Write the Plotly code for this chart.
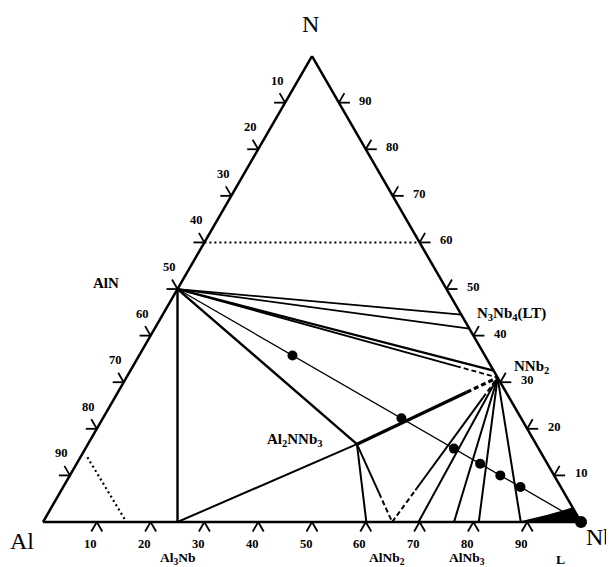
import plotly.graph_objects as go

# ---------------- data: compositions in at.% as (Al, N, Nb) ----------------
AlN = (50.0, 50.0, 0.0)
Al3Nb = (75.0, 0.0, 25.0)
Al2NNb3 = (33.3, 16.7, 50.0)
NNb2 = (0.0, 31.0, 69.0)
NNb2_N_rich = (0.0, 32.5, 67.5)
N3Nb4_hi = (0.0, 44.5, 55.5)
N3Nb4_lo = (0.0, 41.5, 58.5)
Nb_corner = (0.0, 0.0, 100.0)
AlNb2 = (33.3, 0.0, 66.7)
AlNb3 = (25.0, 0.0, 75.0)

# Nb at.% where tie lines meet the Al-Nb side
side_Nb_ends = [60.1, 64.9, 69.8, 76.4, 81.0, 88.8]

# alloys studied, on the AlN-Nb join (Al = N)
sample_Nb = [28.5, 55.5, 68.5, 75.0, 80.0, 85.0]

# liquid (L) region near Nb
liquid_Al = [11.2, 5.5, 2.6, 0.0, 0.0]
liquid_N = [0.0, 1.4, 2.2, 3.0, 0.0]
liquid_Nb = [88.8, 93.1, 95.2, 97.0, 100.0]

dotted_Al_corner = [(84.8, 13.9, 1.3), (84.5, 0.0, 15.5)]
dotted_N60 = [(40.0, 60.0, 0.0), (0.0, 60.0, 40.0)]

tick_values = [10, 20, 30, 40, 50, 60, 70, 80, 90]
vertex_labels = ["N", "Al", "Nb"]

# ---------------- layout geometry ----------------
W, H = 614, 567
SIDE = 538.0          # triangle side, px
X0, Y0 = 35.0, 53.0   # Al vertex, px from paper left / bottom
FONT = "Liberation Serif"


def to_paper(comp):
    al, n, nb = comp
    tot = al + n + nb
    n, nb = n / tot, nb / tot
    return ((X0 + SIDE * (nb + n / 2.0)) / W,
            (Y0 + SIDE * 0.8660254 * n) / H)


def side_pt(nb):
    return (100.0 - nb, 0.0, nb)


B = [side_pt(v) for v in side_Nb_ends]


def lerp(p, q, f):
    return tuple(p[i] + (q[i] - p[i]) * f for i in range(3))


fig = go.Figure()


def add_path(points, width, dash="solid"):
    fig.add_trace(go.Scatterternary(
        a=[p[1] for p in points], b=[p[0] for p in points], c=[p[2] for p in points],
        mode="lines", line=dict(color="black", width=width, dash=dash),
        hoverinfo="skip", showlegend=False))


def add_tie(p, q, width, pieces=((0.0, 1.0, "solid"),)):
    for f0, f1, dash in pieces:
        add_path([lerp(p, q, f0), lerp(p, q, f1)], width, dash)


DASH = "5px,3px"
DOT = "2px,3px"

# tie lines
add_tie(AlN, N3Nb4_hi, 1.8)
add_tie(AlN, N3Nb4_lo, 1.8)
add_tie(AlN, NNb2_N_rich, 2.2)
add_tie(AlN, NNb2, 1.8, ((0.0, 0.87, "solid"), (0.87, 1.0, DASH)))
add_tie(AlN, Nb_corner, 1.3)
add_tie(AlN, Al2NNb3, 2.4)
add_tie(AlN, Al3Nb, 2.4)
add_tie(Al3Nb, Al2NNb3, 2.0)
add_tie(Al2NNb3, NNb2, 3.2, ((0.0, 0.78, "solid"), (0.78, 1.0, DASH)))
add_tie(Al2NNb3, B[0], 2.0)
add_tie(Al2NNb3, B[1], 2.0, ((0.0, 0.63, "solid"), (0.63, 1.0, DASH)))
add_tie(B[1], NNb2, 2.0, ((0.0, 0.22, DASH), (0.22, 0.86, "solid"), (0.86, 1.0, DASH)))
for bp in B[2:]:
    add_tie(bp, NNb2, 2.0)
add_path(dotted_Al_corner, 2.2, DOT)
add_path(dotted_N60, 2.0, DOT)

# liquid region
fig.add_trace(go.Scatterternary(
    a=liquid_N, b=liquid_Al, c=liquid_Nb, mode="lines", fill="toself",
    fillcolor="black", line=dict(color="black", width=1.5),
    hoverinfo="skip", showlegend=False))

# sample points
fig.add_trace(go.Scatterternary(
    a=[(100 - v) / 2 for v in sample_Nb], b=[(100 - v) / 2 for v in sample_Nb], c=sample_Nb,
    mode="markers", marker=dict(color="black", size=10),
    hoverinfo="skip", showlegend=False))
fig.add_trace(go.Scatterternary(
    a=[Nb_corner[1]], b=[Nb_corner[0]], c=[Nb_corner[2]], mode="markers",
    marker=dict(color="black", size=12), cliponaxis=False,
    hoverinfo="skip", showlegend=False))

# chevron ticks: two short legs per tick, outside the triangle
LEG = 11.0
C60, S60 = 0.5, 0.8660254
shapes = []


def leg(comp, ux, uy):
    x, y = to_paper(comp)
    shapes.append(dict(type="line", xref="paper", yref="paper",
                       x0=x, y0=y, x1=x + LEG * ux / W, y1=y + LEG * uy / H,
                       line=dict(color="black", width=1.8)))


for v in tick_values:
    left = (float(v), 100.0 - v, 0.0)
    leg(left, -1, 0)
    leg(left, -C60, S60)
    bottom = (100.0 - v, 0.0, float(v))
    leg(bottom, -C60, -S60)
    leg(bottom, C60, -S60)
    right = (0.0, float(v), 100.0 - v)
    leg(right, 1, 0)
    leg(right, C60, S60)

annotations = []


def label(comp, text, size, dx, dy, bold=True, xanchor="center"):
    x, y = to_paper(comp)
    annotations.append(dict(
        x=x, y=y, xref="paper", yref="paper", xshift=dx, yshift=-dy,
        text=("<b>%s</b>" % text) if bold else text, showarrow=False,
        xanchor=xanchor, yanchor="middle", borderpad=0,
        font=dict(family=FONT, size=size, color="black")))


TICK_FS = 12.5
for v in tick_values:
    label((float(v), 100.0 - v, 0.0), str(v), TICK_FS, -8, -22)
    label((100.0 - v, 0.0, float(v)), str(v), TICK_FS, -6, 22)
    label((0.0, float(v), 100.0 - v), str(v), TICK_FS, 27, -2)

label((0.0, 100.0, 0.0), vertex_labels[0], 24, -2, -32, bold=False)
label((100.0, 0.0, 0.0), vertex_labels[1], 24, -21, 19, bold=False)
label((0.0, 0.0, 100.0), vertex_labels[2], 24, 19, 15, bold=False)

PH_FS = 15
BOT_FS = 13.5
label(AlN, "AlN", PH_FS, -72, -6)
label(Al2NNb3, "Al<sub>2</sub>NNb<sub>3</sub>", PH_FS, -62, -4)
label(Al3Nb, "Al<sub>3</sub>Nb", BOT_FS, 0, 36)
label(AlNb2, "AlNb<sub>2</sub>", BOT_FS, -15, 36)
label(AlNb3, "AlNb<sub>3</sub>", BOT_FS, 20, 36)
label(Nb_corner, "L", BOT_FS, -21, 37)
label(N3Nb4_hi, "N<sub>3</sub>Nb<sub>4</sub>(LT)", PH_FS, 15, -1, xanchor="left")
label(NNb2, "NNb<sub>2</sub>", PH_FS, 15, -11, xanchor="left")

axis_style = dict(showgrid=False, showticklabels=False, ticks="", showline=True,
                  linecolor="black", linewidth=2.5, title=dict(text=""))
fig.update_layout(
    width=W, height=H, margin=dict(l=0, r=0, t=0, b=0),
    paper_bgcolor="white", showlegend=False,
    font=dict(family=FONT, color="black"),
    ternary=dict(
        sum=100, bgcolor="white",
        domain=dict(x=[X0 / W, (X0 + SIDE) / W],
                    y=[Y0 / H, (Y0 + SIDE * 0.8660254) / H]),
        aaxis=axis_style, baxis=axis_style, caxis=axis_style,
    ),
    shapes=shapes,
    annotations=annotations,
)

fig.write_html("out.html")
